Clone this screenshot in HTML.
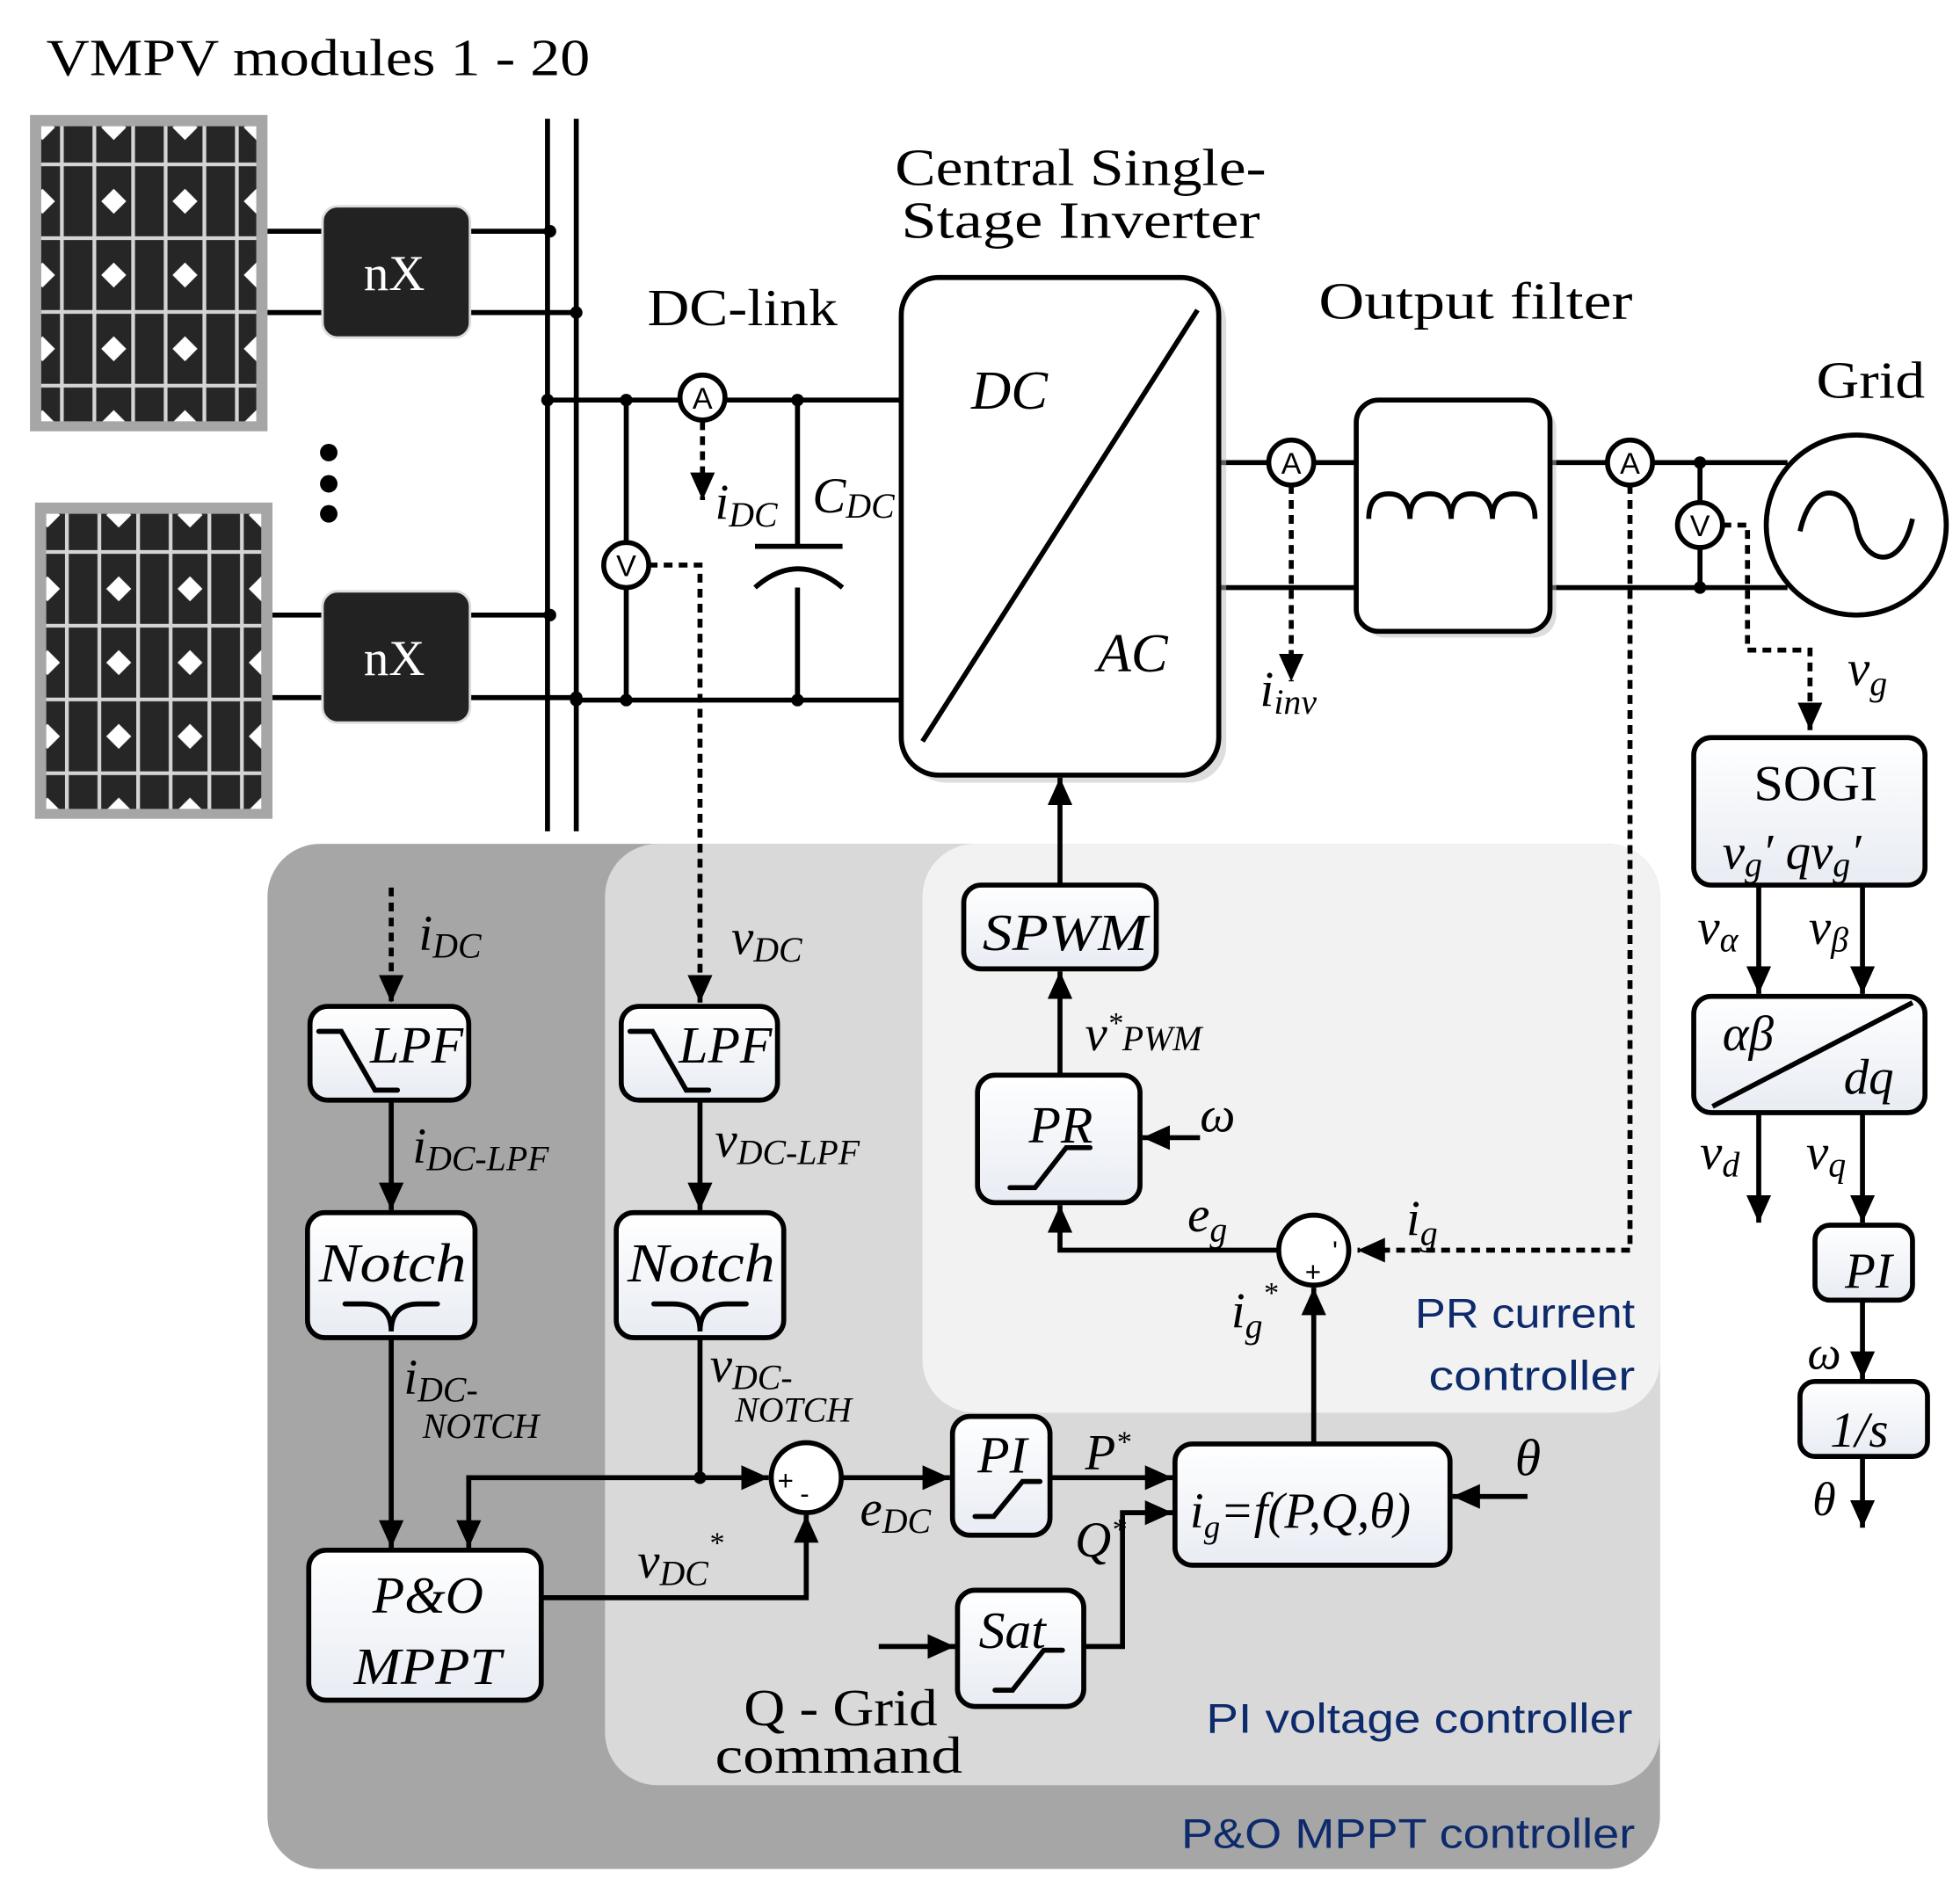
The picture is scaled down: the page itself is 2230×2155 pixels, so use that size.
<!DOCTYPE html>
<html><head><meta charset="utf-8"><style>
html,body{margin:0;padding:0;background:#fff}
svg{display:block}
text{font-family:"Liberation Serif",serif;fill:#000}
.i{font-style:italic}
.s{font-family:"Liberation Sans",sans-serif}
.b{font-family:"Liberation Sans",sans-serif;fill:#0d2a6b}
</style></head><body>
<svg width="2230" height="2155" viewBox="0 0 1568 1515" preserveAspectRatio="none" xmlns="http://www.w3.org/2000/svg">
<defs>
<linearGradient id="g" x1="0" y1="0" x2="0" y2="1"><stop offset="0" stop-color="#ffffff"/><stop offset="1" stop-color="#e8ecf3"/></linearGradient>
<marker id="a" viewBox="0 0 10 10" refX="10" refY="5" markerWidth="22" markerHeight="22" markerUnits="userSpaceOnUse" orient="auto"><path d="M0,0.5L10,5L0,9.5z"/></marker>
<pattern id="cells" x="34" y="102" width="57" height="59" patternUnits="userSpaceOnUse">
<rect width="57" height="59" fill="#fff"/>
<path d="M10,0H47L57,10V49L47,59H10L0,49V10Z" fill="#262626"/>
<path d="M0,29.5h57M15.5,0v59M41.5,0v59" stroke="#d4d4d4" stroke-width="3"/>
</pattern>
<pattern id="cells2" x="38" y="412" width="57" height="59" patternUnits="userSpaceOnUse">
<rect width="57" height="59" fill="#fff"/>
<path d="M10,0H47L57,10V49L47,59H10L0,49V10Z" fill="#262626"/>
<path d="M0,29.5h57M15.5,0v59M41.5,0v59" stroke="#d4d4d4" stroke-width="3"/>
</pattern>
</defs>

<rect x="214" y="675" width="1114" height="820" rx="42" fill="#a6a6a6"/>
<rect x="484" y="675" width="844" height="753" rx="42" fill="#d9d9d9"/>
<rect x="738" y="675" width="590" height="455" rx="42" fill="#f2f2f2"/>

<text x="37" y="60" font-size="42" textLength="435" lengthAdjust="spacingAndGlyphs">VMPV modules 1 - 20</text>

<rect x="24" y="92" width="190" height="253" fill="#a6a6a6"/>
<rect x="33" y="101" width="172" height="236" fill="url(#cells)"/>
<rect x="28" y="402" width="190" height="253" fill="#a6a6a6"/>
<rect x="37" y="411" width="172" height="236" fill="url(#cells2)"/>

<g stroke="#000" stroke-width="4" fill="none">
<path d="M214,185H258M214,250H258M376,185H440M376,250H461"/>
<path d="M218,492H258M218,558H258M376,492H440M376,558H461"/>
<path d="M438,95V665M461,95V665"/>
<path d="M438,320H720M461,560H720M501,320V434M501,470V560M638,320V437M638,470V560"/>
<path d="M604,437H674"/>
<path d="M604,470Q638,440 674,470"/>
<path d="M975,370H1085M975,470H1085M1240,370H1430M1240,470H1430M1360,370V402M1360,438V470"/>
</g>
<rect x="258" y="165" width="118" height="105" rx="12" fill="#222" stroke="#ddd" stroke-width="2"/>
<rect x="258" y="473" width="118" height="105" rx="12" fill="#222" stroke="#ddd" stroke-width="2"/>
<text x="291" y="232" font-size="40" style="fill:#fff">nX</text>
<text x="291" y="540" font-size="40" style="fill:#fff">nX</text>
<g fill="#000">
<circle cx="440" cy="185" r="5"/><circle cx="461" cy="250" r="5"/><circle cx="440" cy="492" r="5"/><circle cx="461" cy="558" r="5"/>
<circle cx="438" cy="320" r="5"/><circle cx="501" cy="320" r="5"/><circle cx="638" cy="320" r="5"/>
<circle cx="461" cy="560" r="5"/><circle cx="501" cy="560" r="5"/><circle cx="638" cy="560" r="5"/>
<circle cx="1360" cy="370" r="5"/><circle cx="1360" cy="470" r="5"/>
<circle cx="263" cy="362" r="7"/><circle cx="263" cy="387" r="7"/><circle cx="263" cy="411" r="7"/>
</g>
<text x="518" y="260" font-size="42" textLength="152" lengthAdjust="spacingAndGlyphs">DC-link</text>

<g stroke="#000" stroke-width="4" fill="#fff">
<circle cx="562" cy="318" r="18"/><circle cx="501" cy="452" r="18"/>
<circle cx="1033" cy="370" r="18"/><circle cx="1304" cy="370" r="18"/><circle cx="1360" cy="420" r="18"/>
</g>
<g font-size="24" class="s" text-anchor="middle">
<text x="562" y="327" class="s">A</text><text x="501" y="461" class="s">V</text>
<text x="1033" y="379" class="s">A</text><text x="1304" y="379" class="s">A</text><text x="1360" y="429" class="s">V</text>
</g>

<g stroke="#000" stroke-width="4" fill="none" stroke-dasharray="7,5">
<path d="M562,337V400" marker-end="url(#a)"/>
<path d="M519,452H560V802" marker-end="url(#a)"/>
<path d="M1033,388V545" marker-end="url(#a)"/>
<path d="M1378,420H1398V520H1448V584" marker-end="url(#a)"/>
<path d="M1304,388V1000H1086" marker-end="url(#a)"/>
<path d="M313,710V802" marker-end="url(#a)"/>
</g>
<text x="572" y="415" font-size="40" class="i">i<tspan font-size="28" dy="6">DC</tspan></text>
<text x="650" y="410" font-size="40" class="i">C<tspan font-size="28" dy="4">DC</tspan></text>

<rect x="727" y="228" width="254" height="398" rx="30" fill="#bbb" opacity="0.5"/>
<rect x="721" y="222" width="254" height="398" rx="30" fill="#fff" stroke="#000" stroke-width="4"/>
<path d="M958,248L738,593" stroke="#000" stroke-width="4"/>
<text x="777" y="327" font-size="44" class="i">DC</text>
<text x="878" y="537" font-size="44" class="i">AC</text>
<text x="716" y="148" font-size="42" textLength="297" lengthAdjust="spacingAndGlyphs">Central Single-</text>
<text x="721" y="190" font-size="42" textLength="287" lengthAdjust="spacingAndGlyphs">Stage Inverter</text>

<rect x="1090" y="325" width="155" height="185" rx="18" fill="#bbb" opacity="0.5"/>
<rect x="1085" y="320" width="155" height="185" rx="18" fill="#fff" stroke="#000" stroke-width="4"/>
<path d="M1095,415Q1095,395 1111,395T1128,415Q1128,395 1144,395T1161,415Q1161,395 1177,395T1194,415Q1194,395 1211,395T1228,415" stroke="#000" stroke-width="4" fill="none"/>
<text x="1055" y="255" font-size="42" textLength="251" lengthAdjust="spacingAndGlyphs">Output filter</text>
<text x="1008" y="565" font-size="40" class="i">i<tspan font-size="28" dy="6">inv</tspan></text>

<circle cx="1485" cy="420" r="72" fill="#fff" stroke="#000" stroke-width="4"/>
<path d="M1440,425C1450,380 1480,390 1485,420S1520,460 1530,415" stroke="#000" stroke-width="4" fill="none"/>
<text x="1453" y="318" font-size="42" textLength="87" lengthAdjust="spacingAndGlyphs">Grid</text>
<text x="1478" y="548" font-size="40" class="i">v<tspan font-size="28" dy="8">g</tspan></text>

<g stroke="#000" stroke-width="4" fill="url(#g)">
<rect x="1355" y="590" width="185" height="118" rx="14"/>
<rect x="1355" y="797" width="185" height="93" rx="14"/>
<rect x="1452" y="980" width="78" height="60" rx="12"/>
<rect x="1440" y="1105" width="102" height="60" rx="12"/>
</g>
<path d="M1370,885L1530,802" stroke="#000" stroke-width="4"/>
<text x="1403" y="640" font-size="40" textLength="99" lengthAdjust="spacingAndGlyphs">SOGI</text>
<text x="1378" y="695" font-size="40" class="i">v<tspan font-size="28" dy="6">g</tspan><tspan dy="-6">′  qv</tspan><tspan font-size="28" dy="6">g</tspan><tspan dy="-6">′</tspan></text>
<text x="1378" y="840" font-size="40" class="i">αβ</text>
<text x="1475" y="875" font-size="40" class="i">dq</text>
<text x="1476" y="1030" font-size="40" class="i">PI</text>
<text x="1464" y="1157" font-size="40" class="i">1/s</text>
<g stroke="#000" stroke-width="4" fill="none">
<path d="M1407,708V795" marker-end="url(#a)"/>
<path d="M1490,708V795" marker-end="url(#a)"/>
<path d="M1407,890V978" marker-end="url(#a)"/>
<path d="M1490,890V978" marker-end="url(#a)"/>
<path d="M1490,1040V1103" marker-end="url(#a)"/>
<path d="M1490,1165V1222" marker-end="url(#a)"/>
</g>
<text x="1358" y="755" font-size="40" class="i">v<tspan font-size="28" dy="6">α</tspan></text>
<text x="1447" y="755" font-size="40" class="i">v<tspan font-size="28" dy="6">β</tspan></text>
<text x="1360" y="935" font-size="40" class="i">v<tspan font-size="28" dy="6">d</tspan></text>
<text x="1445" y="935" font-size="40" class="i">v<tspan font-size="28" dy="6">q</tspan></text>
<text x="1446" y="1095" font-size="38" class="i">ω</text>
<text x="1450" y="1212" font-size="38" class="i">θ</text>

<g stroke="#000" stroke-width="4" fill="url(#g)">
<rect x="771" y="708" width="154" height="67" rx="14"/>
<rect x="782" y="860" width="130" height="102" rx="14"/>
<rect x="940" y="1155" width="220" height="97" rx="14"/>
<rect x="248" y="805" width="127" height="75" rx="14"/>
<rect x="497" y="805" width="125" height="75" rx="14"/>
<rect x="246" y="970" width="134" height="100" rx="14"/>
<rect x="493" y="970" width="134" height="100" rx="14"/>
<rect x="247" y="1240" width="186" height="120" rx="14"/>
<rect x="762" y="1133" width="78" height="95" rx="14"/>
<rect x="766" y="1272" width="101" height="93" rx="14"/>
</g>
<g stroke="#000" stroke-width="4" fill="none" stroke-linecap="round">
<path d="M255,825H273L300,872H318"/>
<path d="M504,825H522L549,872H567"/>
<path d="M276,1043H291Q313,1043 313,1065Q313,1043 335,1043H350"/>
<path d="M523,1043H538Q560,1043 560,1065Q560,1043 582,1043H597"/>
<path d="M808,950H828L853,918H872"/>
<path d="M780,1213H795L818,1185H832"/>
<path d="M796,1352H810L835,1320H850"/>
</g>
<text x="786" y="760" font-size="42" class="i" textLength="132" lengthAdjust="spacingAndGlyphs">SPWM</text>
<text x="823" y="914" font-size="42" class="i">PR</text>
<text x="296" y="850" font-size="42" class="i">LPF</text>
<text x="543" y="850" font-size="42" class="i">LPF</text>
<text x="255" y="1025" font-size="44" class="i" textLength="118" lengthAdjust="spacingAndGlyphs">Notch</text>
<text x="502" y="1025" font-size="44" class="i" textLength="118" lengthAdjust="spacingAndGlyphs">Notch</text>
<text x="298" y="1290" font-size="42" class="i">P&amp;O</text>
<text x="283" y="1347" font-size="42" class="i" textLength="118" lengthAdjust="spacingAndGlyphs">MPPT</text>
<text x="782" y="1178" font-size="42" class="i">PI</text>
<text x="783" y="1318" font-size="42" class="i">Sat</text>
<text x="952" y="1222" font-size="40" class="i">i<tspan font-size="26" dy="8">g</tspan><tspan dy="-8">=f(P,Q,θ)</tspan></text>

<circle cx="1051" cy="1000" r="28" fill="#fff" stroke="#000" stroke-width="4"/>
<circle cx="645" cy="1182" r="28" fill="#fff" stroke="#000" stroke-width="4"/>
<text x="1044" y="1025" font-size="22" class="s">+</text>
<text x="1066" y="1008" font-size="22" class="s">'</text>
<text x="622" y="1192" font-size="22" class="s">+</text>
<text x="640" y="1202" font-size="22" class="s">-</text>

<g stroke="#000" stroke-width="4" fill="none">
<path d="M848,708V622" marker-end="url(#a)"/>
<path d="M848,860V777" marker-end="url(#a)"/>
<path d="M960,910H914" marker-end="url(#a)"/>
<path d="M1023,1000H848V964" marker-end="url(#a)"/>
<path d="M1051,1155V1030" marker-end="url(#a)"/>
<path d="M1222,1197H1162" marker-end="url(#a)"/>
<path d="M313,880V968" marker-end="url(#a)"/>
<path d="M560,880V968" marker-end="url(#a)"/>
<path d="M313,1070V1238" marker-end="url(#a)"/>
<path d="M560,1070V1182H615" marker-end="url(#a)"/>
<path d="M560,1182H375V1238" marker-end="url(#a)"/>
<path d="M433,1278H645V1212" marker-end="url(#a)"/>
<path d="M673,1182H760" marker-end="url(#a)"/>
<path d="M840,1182H938" marker-end="url(#a)"/>
<path d="M703,1317H764" marker-end="url(#a)"/>
<path d="M867,1317H898V1210H938" marker-end="url(#a)"/>
</g>
<circle cx="560" cy="1182" r="5"/>

<text x="868" y="840" font-size="40" class="i">v<tspan font-size="24" dy="-14">*</tspan><tspan font-size="28" dy="14">PWM</tspan></text>
<text x="960" y="905" font-size="40" class="i">ω</text>
<text x="950" y="985" font-size="40" class="i">e<tspan font-size="28" dy="8">g</tspan></text>
<text x="1125" y="988" font-size="40" class="i">i<tspan font-size="28" dy="8">g</tspan></text>
<text x="985" y="1062" font-size="40" class="i">i<tspan font-size="28" dy="8">g</tspan><tspan font-size="24" dy="-28">*</tspan></text>
<text x="1212" y="1180" font-size="42" class="i">θ</text>
<text x="335" y="760" font-size="40" class="i">i<tspan font-size="28" dy="6">DC</tspan></text>
<text x="585" y="763" font-size="40" class="i">v<tspan font-size="28" dy="6">DC</tspan></text>
<text x="330" y="930" font-size="40" class="i">i<tspan font-size="28" dy="6">DC-LPF</tspan></text>
<text x="572" y="925" font-size="40" class="i">v<tspan font-size="28" dy="6">DC-LPF</tspan></text>
<text x="323" y="1115" font-size="40" class="i">i<tspan font-size="28" dy="6">DC-</tspan></text>
<text x="338" y="1150" font-size="28" class="i">NOTCH</text>
<text x="568" y="1105" font-size="40" class="i">v<tspan font-size="28" dy="6">DC-</tspan></text>
<text x="588" y="1137" font-size="28" class="i">NOTCH</text>
<text x="510" y="1262" font-size="40" class="i">v<tspan font-size="28" dy="6">DC</tspan><tspan font-size="24" dy="-26">*</tspan></text>
<text x="688" y="1220" font-size="40" class="i">e<tspan font-size="28" dy="6">DC</tspan></text>
<text x="868" y="1175" font-size="40" class="i">P<tspan font-size="24" dy="-14">*</tspan></text>
<text x="860" y="1245" font-size="40" class="i">Q<tspan font-size="24" dy="-14">*</tspan></text>
<text x="595" y="1380" font-size="42" textLength="155" lengthAdjust="spacingAndGlyphs">Q - Grid</text>
<text x="572" y="1418" font-size="42" textLength="198" lengthAdjust="spacingAndGlyphs">command</text>

<text x="1132" y="1062" font-size="33" class="b" textLength="176" lengthAdjust="spacingAndGlyphs">PR current</text>
<text x="1143" y="1112" font-size="33" class="b" textLength="165" lengthAdjust="spacingAndGlyphs">controller</text>
<text x="965" y="1386" font-size="33" class="b" textLength="341" lengthAdjust="spacingAndGlyphs">PI voltage controller</text>
<text x="945" y="1478" font-size="33" class="b" textLength="363" lengthAdjust="spacingAndGlyphs">P&amp;O MPPT controller</text>
</svg>
</body></html>
